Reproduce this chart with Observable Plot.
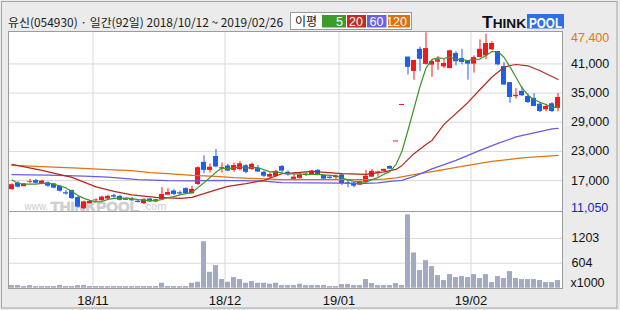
<!DOCTYPE html>
<html>
<head>
<meta charset="utf-8">
<script src="https://cdn.jsdelivr.net/npm/d3@7"></script>
<script src="https://cdn.jsdelivr.net/npm/@observablehq/plot@0.6"></script>
<style>
  html, body { margin: 0; padding: 0; background: #ffffff; }
  #wrap { position: relative; width: 620px; height: 310px; background: #ebebeb; overflow: hidden; }
  #wrap svg { position: absolute; }
</style>
</head>
<body>
<div id="wrap"></div>
<script>
// ---------- data ----------
const title = "유신(054930) · 일간(92일) 2018/10/12 ~ 2019/02/26";
const maLabel = "이평";
const maPeriods = ["5", "20", "60", "120"];

const opens = [15150,16500,15750,16600,17000,16300,16550,16300,15850,14550,
  14950,13500,11200,12250,12850,12850,13200,13900,13750,13250,
  13100,12750,12250,13200,12600,13100,14000,14850,14550,15350,
  14300,16200,20750,19100,21950,19500,20000,19100,19250,20050,
  19250,19450,18700,17700,17850,19900,18700,17250,17450,18200,
  18200,19100,18050,17700,17600,18150,16600,16500,16050,16650,
  17700,18700,18900,19900,25150,32650,42400,39450,44000,40900,
  40750,41350,40400,40050,43150,42100,41650,40950,42300,42650,
  43900,43550,40450,37150,34250,35350,34300,33900,32700,31550,
  32800,31850];
const highs = [16350,16750,16400,17250,17250,17050,16700,16400,16000,15000,
  15050,13700,12800,12900,13250,13800,14000,14200,14000,13450,
  13500,13050,13300,13350,13200,15550,15350,15150,14850,15500,
  15800,19800,22100,20450,23400,20600,20350,20600,20900,20300,
  20600,20100,18950,18550,19100,20100,18950,18600,18400,18700,
  19100,19250,18100,18000,18150,18400,17200,16700,16850,19100,
  19250,18950,19350,20050,25150,32650,42400,41700,44450,47400,
  41700,42500,42100,43800,43500,44000,41650,42650,45950,47100,
  45550,43550,41300,37150,35950,36300,34800,34900,33050,32700,
  33050,34900];
const lows = [15000,15450,15700,16350,16300,16200,15600,15300,14650,14000,
  13100,11350,11050,12100,12600,12700,13100,13400,12800,12950,
  12650,12400,12050,12500,12500,13000,13900,13950,14000,14200,
  14200,16000,18400,18550,19650,18550,18850,18700,18950,18400,
  19100,18650,17600,17400,17700,18400,17900,17200,17250,17850,
  18050,18000,17250,17300,17200,16000,15550,15550,15950,16500,
  17600,17700,18850,19250,25150,32650,38700,37650,39400,40750,
  38250,39700,40050,40000,40600,40800,37650,39100,42250,41850,
  43700,40600,36650,32900,33750,34300,32850,32200,31000,31150,
  31000,31150];
const closes = [16150,15650,16300,16750,16450,16900,15850,15450,14800,14450,
  13300,11550,12600,12700,13000,13600,13750,13600,12950,13150,
  13050,12700,13050,12600,13050,14150,14550,14150,14450,14300,
  15200,19650,19100,19750,19800,19600,18950,20100,20450,18700,
  20350,18750,17900,18250,18900,18950,18150,17700,18150,18300,
  18950,18250,17300,17650,17900,16350,16550,15850,16750,17900,
  18900,18750,19300,19350,25150,32650,40300,41700,41950,44150,
  41500,41850,41100,43700,41450,41300,40950,42300,44000,45200,
  45200,40800,36650,34100,34550,34450,33050,32250,31200,32250,
  31200,34100];
// volume, thousands of shares
const volumes = [64,64,40,64,40,40,40,40,64,40,
  40,64,64,40,40,40,40,40,40,40,
  40,40,40,40,40,120,40,40,40,40,
  120,144,1123,385,546,209,144,257,209,120,
  160,120,120,96,120,64,64,64,96,64,
  64,64,64,40,40,88,88,64,64,209,
  112,64,64,64,112,64,1773,850,425,666,
  522,305,185,329,257,281,257,329,233,329,
  136,281,233,401,233,209,209,209,185,136,
  136,185];

// moving averages
const ma5 = [17100,16450,16250,16250,16260,16410,16450,16280,15890,15490,
  14770,13910,13340,12920,12630,12690,13130,13330,13380,13410,
  13300,13090,12980,12910,12890,13110,13480,13700,14070,14320,
  14530,15550,16540,17600,18700,19580,19440,19640,19780,19560,
  19710,19670,19230,18790,18830,18550,18430,18390,18370,18250,
  18250,18270,18190,18090,18010,17490,17150,16860,16680,16680,
  17190,17630,18320,18840,20290,23040,27350,31830,36350,40150,
  41920,42230,42110,42460,41920,41880,41700,41940,42000,42750,
  43530,43500,42370,40390,38260,36110,34560,33680,33100,32640,
  31990,32200];
const ma20Idx = [0,5,10,14,17,20,24,28,30,34,36,39,42,45,47,50,55,59,62,64,65,67,69,70,72,76,78,80,82,83,84,86,88,90,91];
const ma20Val = [20330,19100,17650,15700,14780,14060,13550,13340,13550,15090,15800,16360,17040,18400,18580,18890,18420,18270,18790,19300,20120,22530,24440,25260,28550,33070,35740,38310,40320,40670,40880,40610,39580,38410,37800];
const ma60Idx = [0,6,12,16,21,26,30,34,42,45,55,58,61,63,65,67,70,74,78,81,84,87,90,91];
const ma60Val = [18210,18130,17920,17720,17180,16980,16940,17040,16900,16570,16490,16360,16530,16840,17040,17860,19400,21150,23210,24640,25980,26800,27620,27730];
const ma120Idx = [0,5,11,16,20,23,26,30,34,37,41,45,50,60,62,64,67,70,75,80,85,91];
const ma120Val = [20120,19860,19550,19260,19050,18620,18420,18070,17860,17600,17390,17200,17180,17180,17290,17550,18210,18830,19920,20950,21660,22180];

const priceTicks = [47400, 41000, 35000, 29000, 23000, 17000, 11050];
const priceGrid = [41000, 35000, 29000, 23000, 17000];
const volumeTicks = [1203, 604];
const volumeUnit = "x1000";
const monthLabels = ["18/11", "18/12", "19/01", "19/02"];
const monthStartIdx = [14, 36, 55, 77];

// ---------- styles ----------
const RED = "#ee1a1f", BLUE = "#1f5ee6", VOL = "#a2aac1";
const GRID = "#d8d8d8", FRAME = "#9c9c9c";
const C5 = "#3f9428", C20 = "#b8261f", C60 = "#6a5ce0", C120 = "#e07312";
const NUMFONT = "'Liberation Sans', Arial, sans-serif";
const KRFONT = "'Noto Sans CJK KR', 'Noto Sans', sans-serif";
const fmt = d3.format(",");
const BW = 0.42;
const xDomain = [-0.58, 91.75];

const candles = d3.range(closes.length).map(i => ({i, o: opens[i], h: highs[i], l: lows[i], c: closes[i], v: volumes[i]}));
const ups = candles.filter(d => d.c >= d.o);
const downs = candles.filter(d => d.c < d.o);
const flatUps = ups.filter(d => Math.abs(d.c - d.o) < 150);
const flatDowns = downs.filter(d => Math.abs(d.c - d.o) < 150);
const line5 = ma5.map((v, i) => ({i, v}));
const zip = (a, b) => a.map((x, k) => ({i: x, v: b[k]}));
const line20 = zip(ma20Idx, ma20Val), line60 = zip(ma60Idx, ma60Val), line120 = zip(ma120Idx, ma120Val);

const wrap = document.getElementById("wrap");

// ---------- background: border, title, legend, logo ----------
const bg = d3.select(wrap).append("svg").attr("width", 620).attr("height", 310)
  .style("left", "0px").style("top", "0px");
bg.append("rect").attr("x", 1.5).attr("y", 1.5).attr("width", 615.5).attr("height", 306.5)
  .attr("fill", "none").attr("stroke", "#a4a4a4");
bg.append("text").attr("x", 8).attr("y", 27).attr("font-family", KRFONT).attr("font-size", 11.8)
  .attr("fill", "#1a1a1a").attr("textLength", 275).attr("lengthAdjust", "spacingAndGlyphs").text(title);

const lg = bg.append("g");
lg.append("rect").attr("x", 290.5).attr("y", 12.5).attr("width", 121).attr("height", 17)
  .attr("fill", "#ffffff").attr("stroke", "#9a9a9a");
lg.append("text").attr("x", 295).attr("y", 26).attr("font-family", KRFONT).attr("font-size", 12)
  .attr("fill", "#111").text(maLabel);
const boxX = [322, 347, 367, 388], boxW = [24, 19, 19.5, 22], boxC = ["#3d9b2b", "#c42a20", "#6b62e2", "#de7010"];
maPeriods.forEach((p, k) => {
  lg.append("rect").attr("x", boxX[k]).attr("y", 15).attr("width", boxW[k]).attr("height", 12.5).attr("fill", boxC[k]);
  lg.append("text").attr("x", boxX[k] + boxW[k] - 3).attr("y", 26).attr("text-anchor", "end")
    .attr("font-family", NUMFONT).attr("font-size", 12.5).attr("fill", "#fff").text(p);
});

const logo = bg.append("g");
const th = logo.append("text").attr("x", 482).attr("y", 28).attr("font-family", NUMFONT)
  .attr("font-weight", "bold").attr("fill", "#111").attr("textLength", 44).attr("lengthAdjust", "spacingAndGlyphs");
th.append("tspan").attr("font-size", 16).text("T");
th.append("tspan").attr("font-size", 12.5).text("HINK");
logo.append("rect").attr("x", 527).attr("y", 14).attr("width", 37).attr("height", 14.5).attr("fill", "#2f6fe3");
logo.append("text").attr("x", 529).attr("y", 27.5).attr("font-family", NUMFONT).attr("font-weight", "bold")
  .attr("font-size", 14.5).attr("fill", "#fff").attr("textLength", 33).attr("lengthAdjust", "spacingAndGlyphs").text("POOL");

// ---------- price panel ----------
const price = Plot.plot({
  width: 620, height: 181,
  marginLeft: 8, marginRight: 58, marginTop: 0, marginBottom: 0,
  x: {domain: xDomain, axis: null},
  y: {domain: [11050, 47400], range: [178, 1.3], axis: null},
  style: {background: "transparent", overflow: "visible", fontFamily: NUMFONT, fontSize: "12px"},
  marks: [
    Plot.frame({fill: "#ffffff"}),
    Plot.ruleY(priceGrid, {stroke: GRID}),
    Plot.ruleX(monthStartIdx, {x: d => d - 0.5, stroke: GRID}),
    // watermark
    Plot.text(["www."], {frameAnchor: "bottom-left", textAnchor: "start", lineAnchor: "bottom", dx: 16, dy: -2.5, fontSize: 10, fill: "#cdcdcd"}),
    Plot.text(["THINKPOOL"], {frameAnchor: "bottom-left", textAnchor: "start", lineAnchor: "bottom", dx: 42, dy: -1, fontSize: 15, fontWeight: "bold", fill: "#cfcfcf", stroke: "#bdbdbd", strokeWidth: 0.5}),
    Plot.text([".com"], {frameAnchor: "bottom-left", textAnchor: "start", lineAnchor: "bottom", dx: 134, dy: -2.5, fontSize: 11, fill: "#cdcdcd"}),
    // candles
    Plot.ruleX(ups, {x: "i", y1: "l", y2: "h", stroke: RED}),
    Plot.ruleX(downs, {x: "i", y1: "l", y2: "h", stroke: BLUE}),
    Plot.rect(ups, {x1: d => d.i - BW, x2: d => d.i + BW, y1: "o", y2: "c", fill: RED}),
    Plot.rect(downs, {x1: d => d.i - BW, x2: d => d.i + BW, y1: "o", y2: "c", fill: BLUE}),
    Plot.ruleY(flatUps, {y: "c", x1: d => d.i - BW, x2: d => d.i + BW, stroke: RED}),
    Plot.ruleY(flatDowns, {y: "c", x1: d => d.i - BW, x2: d => d.i + BW, stroke: BLUE}),
    // moving averages
    Plot.line(line120, {x: "i", y: "v", stroke: C120, strokeWidth: 1.3}),
    Plot.line(line60, {x: "i", y: "v", stroke: C60, strokeWidth: 1.3}),
    Plot.line(line20, {x: "i", y: "v", stroke: C20, strokeWidth: 1.2}),
    Plot.line(line5, {x: "i", y: "v", stroke: C5, strokeWidth: 1.2}),
    Plot.frame({stroke: FRAME}),
    // right-side price labels
    Plot.text(priceTicks.slice(0, 1), {y: d => d, text: d => fmt(d), frameAnchor: "right", textAnchor: "start", dx: 8.5, dy: 5, fill: "#e07818", fontSize: 12.5}),
    Plot.text(priceTicks.slice(1, -1), {y: d => d, text: d => fmt(d), frameAnchor: "right", textAnchor: "start", dx: 8.5, fill: "#111", fontSize: 12.5}),
    Plot.text(priceTicks.slice(-1), {y: d => d, text: d => fmt(d), frameAnchor: "right", textAnchor: "start", dx: 8.5, dy: -2, fill: "#1428c8", fontSize: 12.5})
  ]
});
price.style.left = "0px";
price.style.top = "31px";
wrap.appendChild(price);

// ---------- volume panel ----------
const volume = Plot.plot({
  width: 620, height: 99,
  marginLeft: 8, marginRight: 58, marginTop: 0, marginBottom: 22,
  x: {domain: xDomain, axis: null},
  y: {domain: [0, 1805], range: [76.7, 2], axis: null},
  style: {background: "transparent", overflow: "visible", fontFamily: NUMFONT, fontSize: "12px"},
  marks: [
    Plot.frame({fill: "#ffffff"}),
    Plot.ruleY(volumeTicks, {stroke: GRID}),
    Plot.ruleX(monthStartIdx, {x: d => d - 0.5, stroke: GRID}),
    Plot.rect(candles, {x1: d => d.i - BW, x2: d => d.i + BW, y1: 0, y2: "v", fill: VOL}),
    Plot.frame({stroke: FRAME}),
    Plot.text(volumeTicks, {y: d => d, text: d => String(d), frameAnchor: "right", textAnchor: "start", dx: 9, fill: "#111", fontSize: 12.5}),
    Plot.text([volumeUnit], {frameAnchor: "bottom-right", textAnchor: "start", dx: 8, dy: -2, fill: "#111", fontSize: 12.5}),
    Plot.text(monthLabels, {x: (d, k) => monthStartIdx[k] - 0.5, frameAnchor: "bottom", textAnchor: "middle", lineAnchor: "middle", dy: 12.5, fill: "#111", fontSize: 13})
  ]
});
volume.style.left = "0px";
volume.style.top = "211px";
wrap.appendChild(volume);
</script>
</body>
</html>
